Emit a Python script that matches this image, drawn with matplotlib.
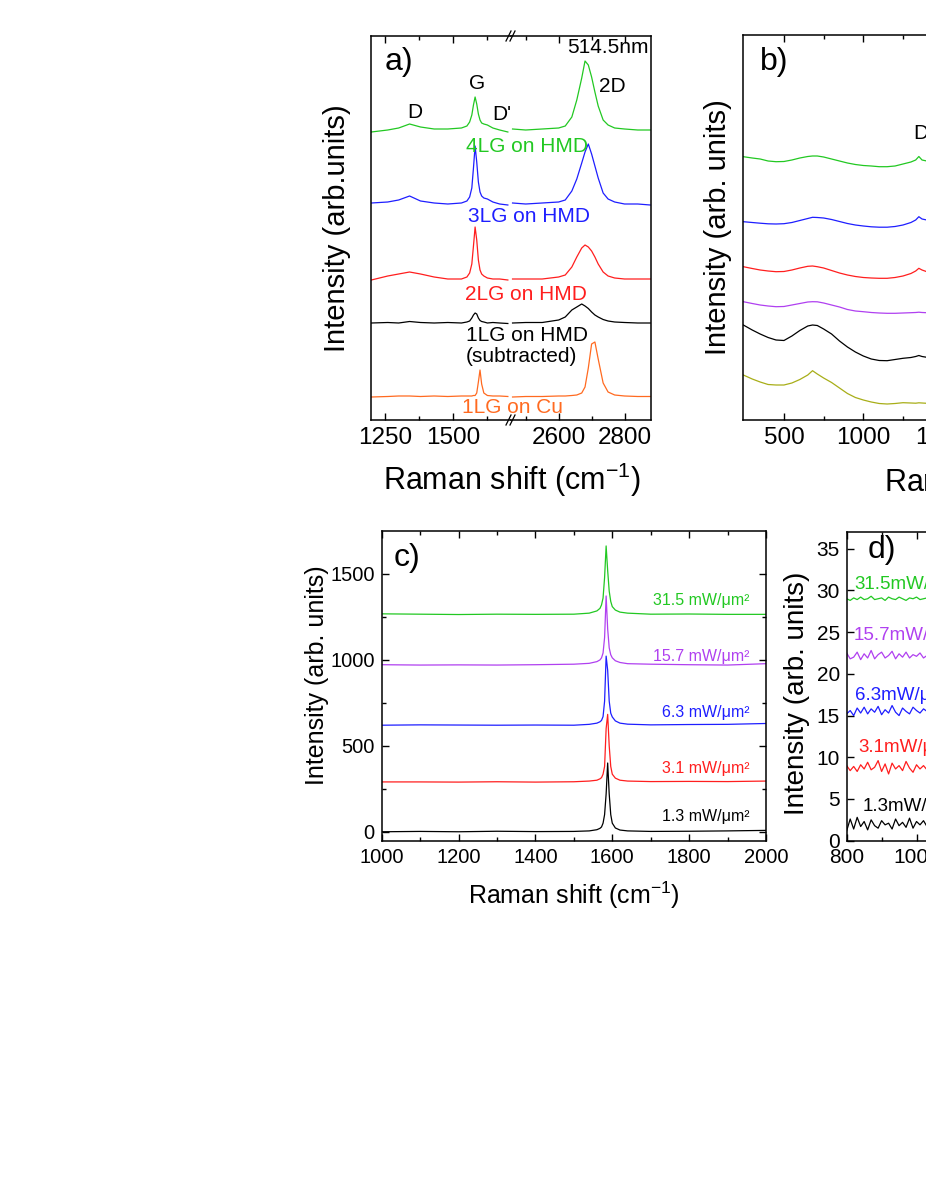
import matplotlib
matplotlib.use('Agg')
import matplotlib.pyplot as plt
from matplotlib.lines import Line2D

plt.rcParams['font.family'] = ['Liberation Sans', 'DejaVu Sans']
plt.rcParams['mathtext.fontset'] = 'custom'
plt.rcParams['mathtext.rm'] = 'Liberation Sans'
plt.rcParams['mathtext.it'] = 'Liberation Sans:italic'
plt.rcParams['mathtext.bf'] = 'Liberation Sans:bold'

# ---------------- panel a: spectra on HMD / Cu (514.5 nm) ----------------
a_names = ['1LG on Cu', '1LG on HMD\n(subtracted)', '2LG on HMD', '3LG on HMD', '4LG on HMD']
a_colors = ['#ff6a20', 'black', '#ff1e1e', '#1e1eff', '#22c822']

# D / G / D' window
a_lo_x = [1200, 1260, 1300, 1340, 1380, 1430, 1480, 1530, 1550, 1560, 1568, 1574,
          1580, 1586, 1592, 1598, 1604, 1612, 1625, 1645, 1670, 1700]
a_lo_1lg_cu = [23, 23.5, 24, 24, 23.5, 24, 23.5, 24, 24, 24, 24, 24.5,
               24.5, 27, 38, 50, 36, 27, 24.5, 24, 24, 23.5]
a_lo_1lg = [97, 97.5, 97, 98.5, 97.5, 97, 97.5, 97, 98, 99, 102, 105,
            107, 106, 102, 99.5, 98.5, 98, 97, 97.5, 97, 96.5]
a_lo_2lg = [140, 144, 146, 148, 146, 143, 141, 141, 143, 147, 156, 174,
            193, 180, 160, 150, 146, 144, 142, 141, 141, 140]
a_lo_3lg = [217, 218, 220, 224, 219, 217, 216, 217, 219, 223, 232, 252,
            274, 258, 238, 228, 224, 222, 221, 218, 216, 215]
a_lo_4lg = [288, 290, 292, 296, 293, 291, 291, 292, 294, 298, 305, 315,
            323, 316, 306, 300, 297, 296, 295, 292, 290, 288]

# 2D window
a_hi_x = [2460, 2500, 2550, 2600, 2620, 2640, 2655, 2670, 2680, 2690, 2700, 2710,
          2720, 2735, 2750, 2770, 2800, 2840, 2878]
a_hi_1lg_cu = [23, 23.5, 23.5, 24, 24, 24.5, 25, 27, 33, 52, 76, 78,
               61, 37, 28, 25, 24, 23.5, 23.5]
a_hi_1lg = [97, 97.5, 97.5, 100, 103, 110, 113, 116, 114, 111.5, 108, 105,
            103, 100.5, 99, 98, 97.5, 97, 97]
a_hi_2lg = [141, 141, 141, 143, 145, 153, 163, 172, 175, 173, 169, 163,
            156, 148, 144, 142, 141, 141, 141]
a_hi_3lg = [217, 216, 217, 218, 220, 229, 241, 257, 268, 276, 266, 254,
            242, 227, 221, 218, 216, 216, 215]
a_hi_4lg = [291, 290, 291, 292, 294, 303, 320, 342, 359, 355, 343, 328,
            314, 300, 295, 292, 291, 290, 290]

# ---------------- panel b: low-frequency region ----------------
b_colors = ['#a8ae18', 'black', '#b040f0', '#ff1e1e', '#1e1eff', '#22c822']
b_x = [244, 300, 350, 400, 450, 500, 550, 600, 650, 680, 710, 750, 800, 850,
       900, 950, 1000, 1050, 1100, 1150, 1200, 1250, 1300, 1330, 1350, 1370, 1400]
b_olive = [45, 41, 38, 35.5, 35, 35, 37, 40.5, 45, 49.3, 46, 42, 37.5, 32,
           26.5, 22.5, 20, 18, 16.5, 16, 16.5, 17.3, 17, 16.8, 17.2, 17, 16.7]
b_black = [95, 90, 86, 82.5, 80, 79.5, 84, 89.5, 94, 95, 94.5, 91, 86, 79,
           73, 68, 64, 61, 59.5, 59.3, 60.5, 61.7, 62.5, 63.5, 64.5, 63.5, 62.7]
b_purple = [118.3, 116.5, 115, 114, 113.3, 113.5, 115, 116.5, 118, 118.3, 118.2, 117, 115, 113,
            110.5, 109, 108.3, 107.5, 107, 106.7, 106.7, 107, 107.3, 107.5, 107.8, 107.5, 107.3]
b_red = [153.3, 151.5, 150, 149, 148.3, 148.5, 150, 152, 153.7, 154, 153.3, 152, 149.5, 147,
         145, 143.5, 142.5, 142, 141.7, 141.7, 142.5, 144, 146.5, 149, 151.7, 150, 148.3]
b_blue = [198.3, 197.5, 196.8, 196.2, 196, 196.3, 197.5, 199.5, 201.5, 202.7, 202.5, 202, 200.5, 198.5,
          196.5, 195, 194, 193.2, 192.8, 192.8, 193.5, 195, 197.5, 200, 203.3, 201, 200]
b_green = [263.3, 262, 261, 259, 258.3, 258.5, 260, 262, 263.5, 264, 264, 263, 261, 259,
           257, 255.5, 254.5, 254, 253.3, 253.3, 254, 256, 258, 260, 263.5, 260, 259]

# ---------------- panel c: G band vs laser power density ----------------
c_powers = ['1.3', '3.1', '6.3', '15.7', '31.5']
c_colors = ['black', '#ff1e1e', '#1e1eff', '#b040f0', '#22c822']
c_x = [1000, 1100, 1200, 1300, 1400, 1500, 1540, 1560, 1568, 1572, 1576, 1580,
       1584, 1588, 1592, 1596, 1600, 1608, 1620, 1640, 1700, 1800, 1900, 2000]
c_p13 = [0, 2, 0, 3, 1, 2, 5, 12, 20, 28, 50, 100,
         220, 400, 220, 100, 50, 22, 10, 5, 2, 3, 5, 8]
c_p31 = [290, 290, 289, 291, 289, 291, 295, 300, 308, 315, 335, 380,
         600, 683, 500, 380, 335, 312, 300, 295, 292, 293, 292, 295]
c_p63 = [620, 622, 621, 620, 621, 620, 625, 632, 640, 648, 670, 760,
         1022, 940, 760, 690, 668, 645, 632, 626, 622, 624, 625, 630]
c_p157 = [972, 970, 971, 970, 972, 975, 980, 990, 1000, 1012, 1040, 1130,
          1372, 1180, 1070, 1030, 1012, 995, 985, 978, 975, 972, 970, 978]
c_p315 = [1268, 1266, 1264, 1266, 1265, 1266, 1272, 1285, 1300, 1320, 1360, 1480,
          1663, 1520, 1400, 1340, 1310, 1290, 1278, 1272, 1266, 1267, 1265, 1265]

# ---------------- panel d: D band region vs laser power density ----------------
d_x = [800, 810, 820, 830, 840, 850, 860, 870, 880, 890, 900, 910,
       920, 930, 940, 950, 960, 970, 980, 990, 1000, 1010, 1020, 1030]
d_p13 = [1.2, 2.6, 1.4, 2.8, 1.7, 2.3, 1.3, 2.5, 1.8, 1.5, 2.4, 1.9,
         2.1, 1.4, 2.6, 1.8, 2.2, 1.6, 2.7, 1.5, 2.3, 1.9, 2.4, 1.7]
d_p31 = [9.0, 8.4, 8.9, 8.3, 9.1, 8.6, 9.4, 8.5, 8.8, 9.6, 8.3, 9.2,
         8.0, 9.3, 8.6, 9.0, 8.4, 9.5, 8.7, 8.2, 9.1, 8.6, 9.0, 8.5]
d_p63 = [15.2, 15.6, 15.0, 15.9, 15.3, 16.0, 15.2, 15.8, 15.4, 16.1, 15.1, 15.7,
         15.3, 16.2, 15.4, 15.0, 15.9, 15.5, 15.2, 16.0, 15.6, 15.3, 15.8, 15.5]
d_p157 = [22.5, 21.8, 22.0, 22.6, 21.7, 22.4, 21.9, 22.8, 21.8, 22.3, 22.6, 21.9,
          22.2, 22.7, 21.8, 22.4, 22.0, 22.6, 21.9, 22.3, 22.1, 22.5, 21.9, 22.2]
d_p315 = [29.0, 28.8, 29.1, 28.9, 29.2, 28.9, 29.0, 29.3, 28.9, 29.0, 29.1, 28.8,
          29.2, 29.0, 28.9, 29.2, 29.0, 28.8, 29.1, 29.0, 29.2, 28.9, 29.0, 29.1]

W, H = 926, 1199
fig = plt.figure(figsize=(W / 100, H / 100), dpi=100)


def px_box(x0, x1, y0, y1):
    # pixel box (top-left origin) -> figure fraction rect
    return [x0 / W, 1 - y1 / H, (x1 - x0) / W, (y1 - y0) / H]


def ftext(x, y, s, **kw):
    fig.text(x / W, 1 - y / H, s, **kw)


def style(ax, size):
    for sp in ax.spines.values():
        sp.set_linewidth(1.1)
    ax.tick_params(which='both', direction='in', top=True, right=True, width=1.0,
                   labelsize=size, pad=5)
    ax.tick_params(which='major', length=5)
    ax.tick_params(which='minor', length=3)


lw = 0.9
rshift = 'Raman shift (cm$^{-1}$)'

# ---- a ----
ax_al = fig.add_axes(px_box(371, 511, 36, 420))
ax_ar = fig.add_axes(px_box(511, 651, 36, 420))
a_lo = [a_lo_1lg_cu, a_lo_1lg, a_lo_2lg, a_lo_3lg, a_lo_4lg]
a_hi = [a_hi_1lg_cu, a_hi_1lg, a_hi_2lg, a_hi_3lg, a_hi_4lg]
for ylo, yhi, col in zip(a_lo, a_hi, a_colors):
    ax_al.plot(a_lo_x, ylo, color=col, lw=lw)
    ax_ar.plot(a_hi_x, yhi, color=col, lw=lw)
ax_al.set_xlim(1198.7, 1711.5)
ax_ar.set_xlim(2455.3, 2880.3)
for ax in (ax_al, ax_ar):
    ax.set_ylim(0, 384)
    style(ax, 17.5)
    ax.set_yticks([])
ax_al.set_xticks([1250, 1500])
ax_al.set_xticks([1375, 1625], minor=True)
ax_ar.set_xticks([2600, 2800])
ax_ar.set_xticks([2500, 2700], minor=True)
ax_al.spines['right'].set_visible(False)
ax_ar.spines['left'].set_visible(False)
# axis break marks
for yb in (36, 420):
    for dx in (-2.5, 1.5):
        fig.add_artist(Line2D([(511 + dx - 2.5) / W, (511 + dx + 2.5) / W],
                              [1 - (yb + 5) / H, 1 - (yb - 5) / H],
                              color='black', lw=0.9))

a_lab_pos = [(513, 407.5), (466, 346), (526.3, 294), (529, 216.7), (526.7, 146.3)]
for name, col, (x, y) in zip(a_names, a_colors, a_lab_pos):
    if '\n' in name:
        ftext(x, y, name, color=col, fontsize=15, ha='left', va='center', linespacing=1.15)
    else:
        ftext(x, y, name, color=col, fontsize=15, ha='center', va='center')
ftext(399, 62, 'a)', fontsize=23, ha='center', va='center')
ftext(607.5, 47.5, '514.5nm', fontsize=15, ha='center', va='center')
ftext(477.5, 83.5, 'G', fontsize=15, ha='center', va='center')
ftext(415, 112, 'D', fontsize=15, ha='center', va='center')
ftext(502, 114, "D'", fontsize=15, ha='center', va='center')
ftext(612.5, 86.7, '2D', fontsize=15, ha='center', va='center')
ftext(336.7, 228, 'Intensity (arb.units)', fontsize=21, rotation=90, ha='center', va='center')
ftext(511.5, 480, rshift, fontsize=22, ha='center', va='center')

# ---- b ----
ax_b = fig.add_axes(px_box(742.7, 1288, 35, 420))
for yv, col in zip([b_olive, b_black, b_purple, b_red, b_blue, b_green], b_colors):
    ax_b.plot(b_x, yv, color=col, lw=lw)
ax_b.set_xlim(240, 3676)
ax_b.set_ylim(0, 385)
style(ax_b, 17.5)
ax_b.set_yticks([])
ax_b.set_xticks([500, 1000, 1500, 2000, 2500, 3000, 3500])
ax_b.set_xticks([750, 1250, 1750, 2250, 2750, 3250], minor=True)
ftext(774, 62, 'b)', fontsize=23, ha='center', va='center')
ftext(920.5, 133.5, 'D', fontsize=15, ha='center', va='center')
ftext(718, 227, 'Intensity (arb. units)', fontsize=21, rotation=90, ha='center', va='center')
ftext(884, 481.7, rshift, fontsize=22, ha='left', va='center')

# ---- c ----
ax_c = fig.add_axes(px_box(381.7, 766, 531, 840.7))
for yv, col in zip([c_p13, c_p31, c_p63, c_p157, c_p315], c_colors):
    ax_c.plot(c_x, yv, color=col, lw=lw)
ax_c.set_xlim(1000, 2000)
ax_c.set_ylim(-52, 1750)
style(ax_c, 14.5)
ax_c.set_xticks([1000, 1200, 1400, 1600, 1800, 2000])
ax_c.set_xticks([1100, 1300, 1500, 1700, 1900], minor=True)
ax_c.set_yticks([0, 500, 1000, 1500])
ax_c.set_yticks([250, 750, 1250], minor=True)
c_lab_y = [817, 769, 713, 656.7, 600]
for p, col, y in zip(c_powers, c_colors, c_lab_y):
    ftext(749, y, p + ' mW/\u03bcm\u00b2', color=col, fontsize=11.5, ha='right', va='center')
ftext(406.7, 558, 'c)', fontsize=23, ha='center', va='center')
ftext(317, 675, 'Intensity (arb. units)', fontsize=18, rotation=90, ha='center', va='center')
ftext(574, 895, rshift, fontsize=18, ha='center', va='center')

# ---- d ----
ax_d = fig.add_axes(px_box(846.7, 1230.7, 532, 840.7))
for yv, col in zip([d_p13, d_p31, d_p63, d_p157, d_p315], c_colors):
    ax_d.plot(d_x, yv, color=col, lw=lw)
ax_d.set_xlim(800, 1900)
ax_d.set_ylim(0, 37)
style(ax_d, 15)
ax_d.set_xticks([800, 1000, 1200, 1400, 1600, 1800])
ax_d.set_xticks([900, 1100, 1300, 1500, 1700], minor=True)
ax_d.set_yticks([0, 5, 10, 15, 20, 25, 30, 35])
d_lab_pos = [(862.7, 806.7), (858.3, 747), (854.7, 695), (854, 635), (854, 585)]
for p, col, (x, y) in zip(c_powers, c_colors, d_lab_pos):
    ftext(x, y, p + 'mW/\u03bcm\u00b2', color=col, fontsize=13.5, ha='left', va='center')
ftext(881.7, 550, 'd)', fontsize=23, ha='center', va='center')
ftext(797, 693, 'Intensity (arb. units)', fontsize=20, rotation=90, ha='center', va='center')

fig.savefig('out.png', dpi=100)
